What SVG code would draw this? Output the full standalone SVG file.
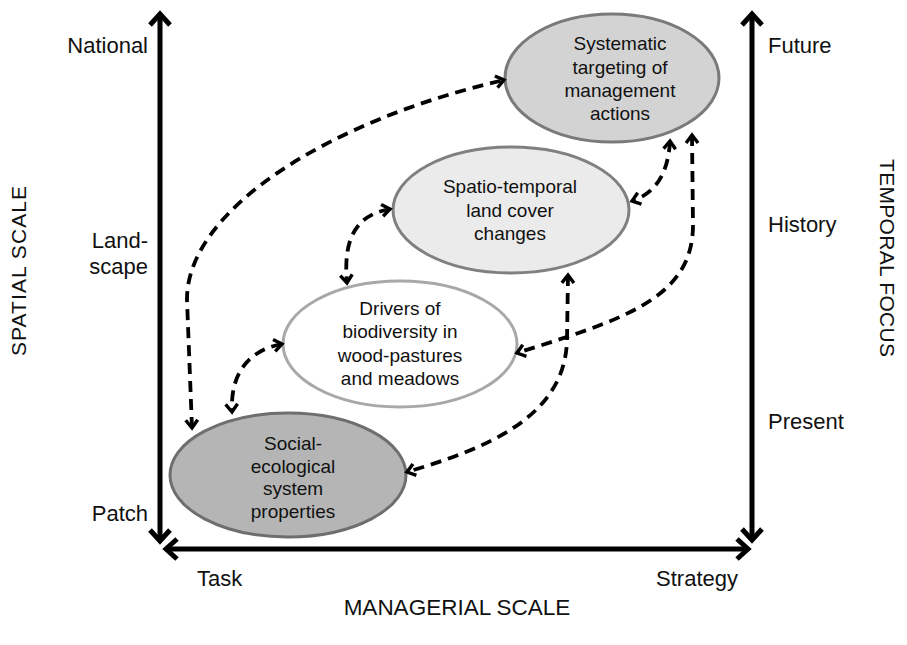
<svg xmlns="http://www.w3.org/2000/svg" width="907" height="645" viewBox="0 0 907 645">
<defs>
<style>
.t{font-family:"Liberation Sans",Arial,sans-serif;fill:#111}
.ax{font-size:22px}
.nd{font-size:19px;text-anchor:middle}
.ttl{font-size:21px;text-anchor:middle}
.axis{stroke:#000;stroke-width:5;fill:none}
.conn{stroke:#000;stroke-width:3.8;fill:none;stroke-dasharray:11 7}
.ell{stroke-width:3}
</style>
<marker id="ah" markerUnits="userSpaceOnUse" viewBox="-16 -16 32 32" markerWidth="32" markerHeight="32" refX="0" refY="0" orient="auto-start-reverse">
<path d="M-11,-10 L0,0 L-11,10" fill="none" stroke="#000" stroke-width="5" stroke-linejoin="miter"/>
</marker>
<marker id="ch" markerUnits="userSpaceOnUse" viewBox="-12 -12 24 24" markerWidth="24" markerHeight="24" refX="0" refY="0" orient="auto-start-reverse">
<path d="M-8,-6 L0,0 L-8,6" fill="none" stroke="#000" stroke-width="3.4"/>
</marker>
</defs>
<rect width="907" height="645" fill="#fff"/>

<g id="axes">
<line class="axis" x1="160" y1="541" x2="160" y2="14" marker-start="url(#ah)" marker-end="url(#ah)"/>
<line class="axis" x1="752" y1="540" x2="752" y2="14" marker-start="url(#ah)" marker-end="url(#ah)"/>
<line class="axis" x1="166" y1="549" x2="748" y2="549" marker-start="url(#ah)" marker-end="url(#ah)"/>
</g>

<g id="axis-labels">
<text class="t ax" x="148" y="53" text-anchor="end">National</text>
<text class="t ax" x="148" y="248" text-anchor="end">Land-</text>
<text class="t ax" x="148" y="274" text-anchor="end">scape</text>
<text class="t ax" x="148" y="521" text-anchor="end">Patch</text>
<text class="t ax" x="768" y="53">Future</text>
<text class="t ax" x="768" y="232">History</text>
<text class="t ax" x="768" y="429">Present</text>
<text class="t ax" x="197" y="586">Task</text>
<text class="t ax" x="738" y="586" text-anchor="end">Strategy</text>
<text class="t ttl" x="457" y="615" style="font-size:22.5px">MANAGERIAL SCALE</text>
<text class="t ttl" transform="translate(26,271) rotate(-90)" x="0" y="0" textLength="170" lengthAdjust="spacing">SPATIAL SCALE</text>
<text class="t ttl" transform="translate(880,258) rotate(90)" x="0" y="0" textLength="198" lengthAdjust="spacing">TEMPORAL FOCUS</text>
</g>

<g id="node-systematic">
<ellipse class="ell" cx="612" cy="78" rx="107" ry="64" fill="#d3d3d3" stroke="#7a7a7a"/>
<text class="t nd" x="620" y="50">Systematic</text>
<text class="t nd" x="620" y="74">targeting of</text>
<text class="t nd" x="620" y="97">management</text>
<text class="t nd" x="620" y="120">actions</text>
</g>

<g id="node-spatio">
<ellipse class="ell" cx="511" cy="210" rx="118" ry="63" fill="#ebebeb" stroke="#808080"/>
<text class="t nd" x="510" y="193">Spatio-temporal</text>
<text class="t nd" x="510" y="217">land cover</text>
<text class="t nd" x="510" y="240">changes</text>
</g>

<g id="node-drivers">
<ellipse class="ell" cx="400" cy="344" rx="117" ry="63" fill="#ffffff" stroke="#a8a8a8"/>
<text class="t nd" x="400" y="315">Drivers of</text>
<text class="t nd" x="400" y="338">biodiversity in</text>
<text class="t nd" x="400" y="362">wood-pastures</text>
<text class="t nd" x="400" y="385">and meadows</text>
</g>

<g id="node-social">
<ellipse class="ell" cx="288" cy="475" rx="118" ry="62" fill="#b5b5b5" stroke="#6e6e6e"/>
<text class="t nd" x="293" y="450">Social-</text>
<text class="t nd" x="293" y="473">ecological</text>
<text class="t nd" x="293" y="495">system</text>
<text class="t nd" x="293" y="518">properties</text>
</g>

<g id="connectors">
<path class="conn" d="M192,428 L187,300 C186,210 330,120 504,80" marker-start="url(#ch)" marker-end="url(#ch)"/>
<path class="conn" d="M390,209 C355,215 343,240 347,283" marker-start="url(#ch)" marker-end="url(#ch)"/>
<path class="conn" d="M282,344 C250,350 230,372 232,412" marker-start="url(#ch)" marker-end="url(#ch)"/>
<path class="conn" d="M670,141 C668,180 650,195 632,201" marker-start="url(#ch)" marker-end="url(#ch)"/>
<path class="conn" d="M692,135 L693,225 C693,300 620,320 517,353" marker-start="url(#ch)" marker-end="url(#ch)"/>
<path class="conn" d="M568,275 L567,340 C565,420 480,450 407,472" marker-start="url(#ch)" marker-end="url(#ch)"/>
</g>
</svg>
